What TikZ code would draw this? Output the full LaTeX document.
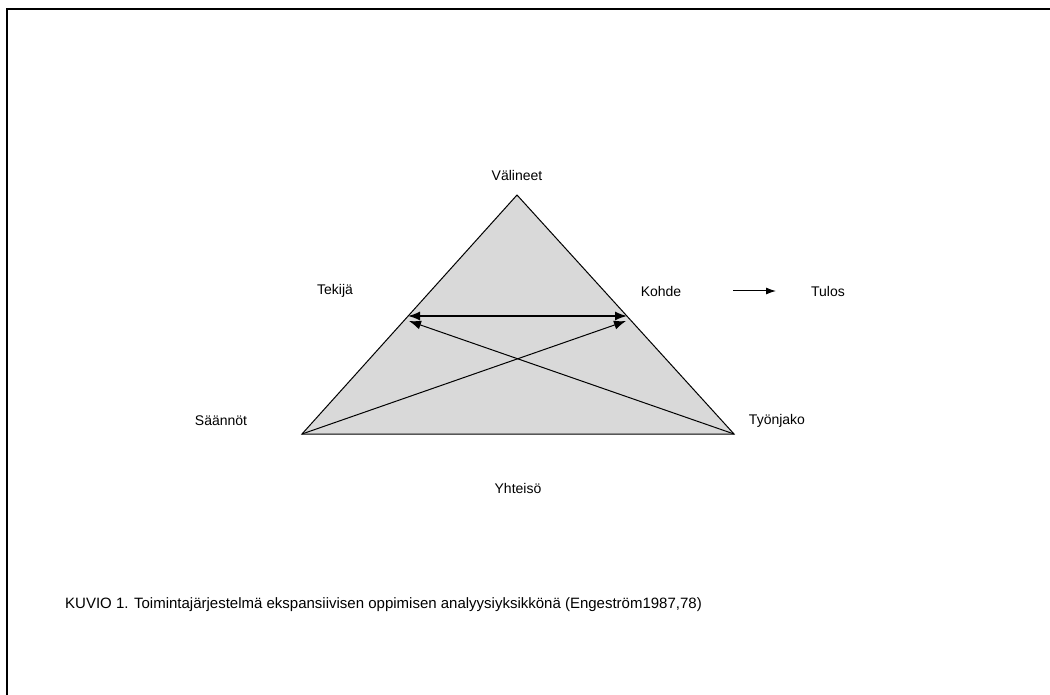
\documentclass[tikz,border=0pt]{standalone}
\usepackage{fontspec}
\setmainfont{Liberation Sans}
\usetikzlibrary{arrows.meta}
\definecolor{trifill}{HTML}{D9D9D9}
\begin{document}
\begin{tikzpicture}[x=1pt,y=-1pt,
  lbl/.style={font=\fontsize{14}{17}\selectfont, inner sep=0pt},
  caplbl/.style={font=\fontsize{15}{18}\selectfont, inner sep=0pt},
  edge/.style={line width=1pt},
  bigtip/.style={-{Latex[length=12pt,width=9pt]}}]
\useasboundingbox (0,0) rectangle (1050,695);
% outer frame, running off the right and bottom edges
\draw[line width=2pt] (1060,9.5) -- (6.5,9.5) -- (6.5,705);

% triangle corners
\coordinate (top) at (517,195);
\coordinate (bl) at (302,434);
\coordinate (br) at (734,434);
\coordinate (ml) at (408,316);
\coordinate (mr) at (627,316);

\fill[trifill] (top) -- (bl) -- (br) -- cycle;
\draw[edge] (top) -- (bl) -- (br) -- cycle;

% links inside the triangle
\draw[line width=1.5pt, {Latex[length=12pt,width=9pt]}-{Latex[length=12pt,width=9pt]}] (ml) -- (mr);
\draw[edge, bigtip] (br) -- (409,321);
\draw[edge, bigtip] (bl) -- (626,321);

% labels
\node[lbl] (val) at (517,175) {Välineet};
\node[lbl] (tek) at (335,291) {Tekijä};
\node[lbl] (koh) at (661,291) {Kohde};
\node[lbl] (tul) at (828,291) {Tulos};
\node[lbl] (saa) at (221,421) {Säännöt};
\node[lbl] (tyo) at (777,421) {Työnjako};
\node[lbl] (yht) at (518,488) {Yhteisö};
\coordinate (arrs) at (733,291);
\coordinate (arre) at (776,291);
\draw[line width=1pt, -{Latex[length=10pt,width=7pt]}] (arrs) -- (arre);

\node[caplbl, anchor=west] (cap) at (65,605) {KUVIO 1. Toimintajärjestelmä ekspansiivisen oppimisen analyysiyksikkönä (Engeström1987,78)};
\end{tikzpicture}
\end{document}
